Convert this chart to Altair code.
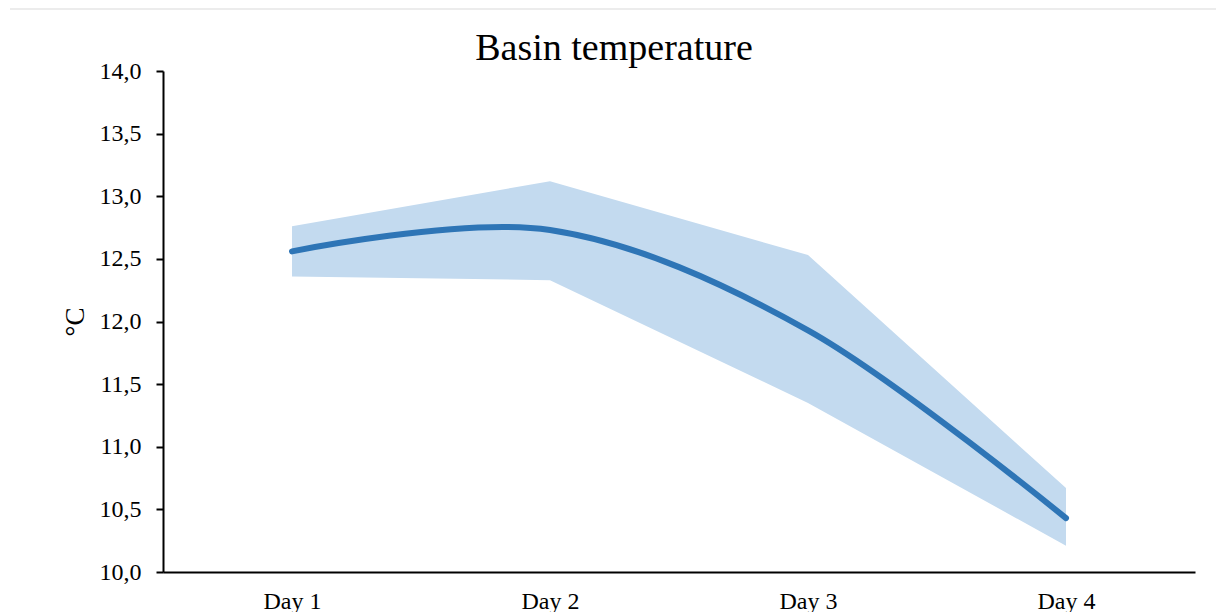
import altair as alt
import pandas as pd

# Daily basin temperature: mean with lower/upper range
days = ["Day 1", "Day 2", "Day 3", "Day 4"]
mean_temp = [12.56, 12.73, 11.93, 10.43]
low_temp = [12.36, 12.33, 11.35, 10.21]
high_temp = [12.76, 13.12, 12.53, 10.67]
chart_title = ["Basin temperature"]

df = pd.DataFrame({"day": days, "mean": mean_temp, "low": low_temp, "high": high_temp})
title_df = pd.DataFrame({"title": chart_title})

SERIF = "Liberation Serif"
W, H = 1032, 501

x = alt.X("day:N", sort=days, title=None,
          scale=alt.Scale(type="point", padding=0.5),
          axis=alt.Axis(domainColor="black", domainWidth=2, ticks=False,
                        labelFont=SERIF, labelFontSize=24, labelColor="black",
                        labelAngle=0, labelPadding=17, grid=False))

y_axis = alt.Axis(values=[10, 10.5, 11, 11.5, 12, 12.5, 13, 13.5, 14],
                  labelExpr="replace(format(datum.value, '.1f'), '.', ',')",
                  domainColor="black", domainWidth=2, tickColor="black", tickWidth=2,
                  tickSize=7, labelFont=SERIF, labelFontSize=24, labelColor="black",
                  labelPadding=15, grid=False,
                  title="°C", titleFont=SERIF, titleFontSize=27, titleFontWeight="normal",
                  titleColor="black", titlePadding=10)
y_scale = alt.Scale(domain=[10, 14], nice=False, zero=False)

band = alt.Chart(df).mark_area(color="#c3daef", opacity=1, interpolate="linear").encode(
    x=x,
    y=alt.Y("low:Q", scale=y_scale, axis=y_axis),
    y2="high:Q",
)

line = alt.Chart(df).mark_line(color="#2e75b6", strokeWidth=6, interpolate="cardinal",
                               strokeCap="round").encode(
    x=x,
    y=alt.Y("mean:Q", scale=y_scale),
)

# thin separator across the top of the figure
top_rule = alt.Chart(title_df).mark_rule(color="#d9d9d9", strokeWidth=1.2, clip=False).encode(
    x=alt.value(-153), x2=alt.value(1053), y=alt.value(-62)
)

title_text = alt.Chart(title_df).mark_text(
    font=SERIF, fontSize=38, color="black", align="center", baseline="alphabetic", clip=False
).encode(text="title:N", x=alt.value(451), y=alt.value(-11))

chart = alt.layer(band, line, top_rule, title_text).properties(
    width=W, height=H,
    autosize=alt.AutoSizeParams(type="none"),
    padding={"left": 163, "top": 71, "right": 21, "bottom": 40},
).configure_view(stroke=None)

chart.save("out.html", embed_options={"renderer": "svg", "actions": False})
